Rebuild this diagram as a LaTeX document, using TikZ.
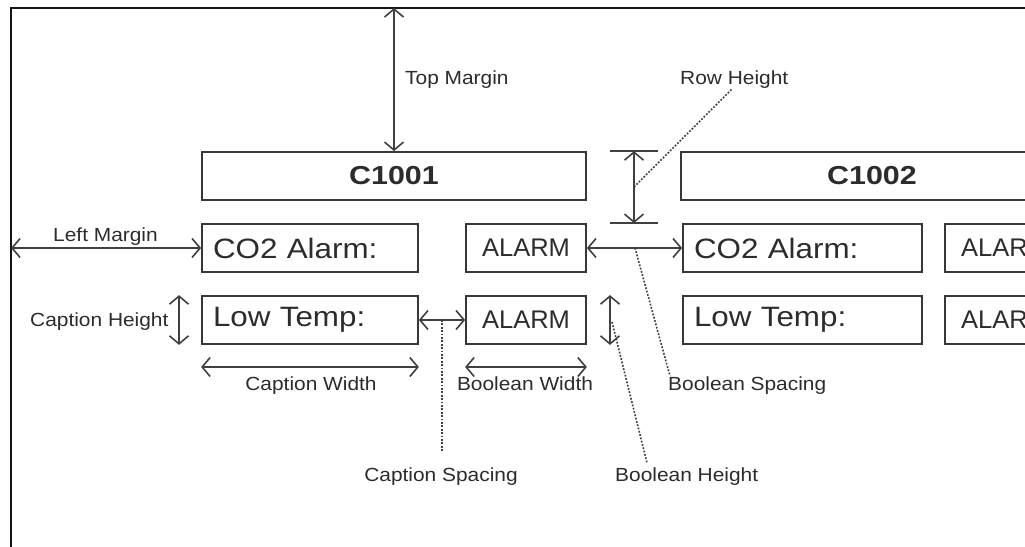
\documentclass[tikz,border=0pt]{standalone}
\usepackage{fontspec}
\setmainfont{Liberation Sans}
\newfontfamily\lblfont{Liberation Sans}[FakeStretch=1.1]
\newfontfamily\capfont{Liberation Sans}[FakeStretch=1.12]
\newfontfamily\hdrfont{Liberation Sans}[FakeStretch=1.17]
\usetikzlibrary{arrows.meta}
\definecolor{ink}{HTML}{2C2C2C}
\definecolor{boxc}{HTML}{383838}
\definecolor{arrc}{HTML}{404040}
\definecolor{framec}{HTML}{151515}
\tikzset{
  box/.style={draw=boxc, line width=1.8pt, inner sep=0pt, minimum height=48pt, text=ink},
  capbox/.style={box, inner xsep=11pt, align=left, font=\capfont\fontsize{28}{28}\selectfont},
  alarmbox/.style={box, minimum width=120pt, font=\fontsize{25.5}{26}\selectfont},
  hdrbox/.style={box, font=\hdrfont\bfseries\fontsize{26}{26}\selectfont},
  dim/.style={draw=arrc, line width=1.6pt, {Straight Barb[length=8pt,width=19pt]}-{Straight Barb[length=8pt,width=19pt]}},
  tick/.style={draw=arrc, line width=1.6pt},
  lbl/.style={font=\lblfont\fontsize{19}{22}\selectfont, text=ink, inner sep=0pt},
  lead/.style={draw=arrc, line width=1.6pt, dash pattern=on 1.8pt off 1.6pt},
  frame/.style={draw=framec, line width=2.8pt}
}
\begin{document}
\begin{tikzpicture}[x=1pt,y=-1pt]
\useasboundingbox (0,0) rectangle (1025,546);
\fill[white] (0,0) rectangle (1025,546);
% frame
\draw[frame] (11,560) -- (11,8) -- (1040,8);
% header boxes
\node[hdrbox, minimum width=384pt] (c1001) at (394,176) {C1001};
\node[hdrbox, minimum width=382pt] (c1002) at (872,176) {C1002};
% column 1
\node[capbox, text width=194pt] (cap1a) at (310,248) {CO2 Alarm:};
\node[alarmbox] (al1a) at (526,248) {ALARM};
\node[capbox, text width=194pt] (cap1b) at (310,320) {Low Temp:};
\node[alarmbox] (al1b) at (526,320) {ALARM};
% column 2
\node[capbox, text width=217pt] (cap2a) at (802.5,248) {CO2 Alarm:};
\node[alarmbox] (al2a) at (1005,248) {ALARM};
\node[capbox, text width=217pt] (cap2b) at (802.5,320) {Low Temp:};
\node[alarmbox] (al2b) at (1005,320) {ALARM};
% helper coordinates
\coordinate (tm) at (394,8);
\coordinate (lm) at (11,248);
\coordinate (chx) at (179,0);
\coordinate (cwy) at (0,367);
\coordinate (bhx) at (610,0);
\coordinate (rhx) at (634,0);
\coordinate (tkl) at (610,0);
\coordinate (tkr) at (658,0);
% labels
\node[lbl, anchor=base west] (ltm) at (405,84) {Top Margin};
\node[lbl, anchor=base west] (lrh) at (680,84) {Row Height};
\node[lbl, anchor=base west] (llm) at (53,241) {Left Margin};
\node[lbl, anchor=base west] (lch) at (30,326) {Caption Height};
\node[lbl, anchor=base] (lcw) at (311,390) {Caption Width};
\node[lbl, anchor=base] (lbw) at (525,390) {Boolean Width};
\node[lbl, anchor=base west] (lbs) at (668,390) {Boolean Spacing};
\node[lbl, anchor=base] (lcs) at (441,481) {Caption Spacing};
\node[lbl, anchor=base west] (lbh) at (615,481) {Boolean Height};
% dimension arrows
\draw[dim] (tm) -- (c1001.north);
\draw[dim] (lm) -- (cap1a.west);
\draw[dim] (cap1b.north -| chx) -- (cap1b.south -| chx);
\draw[dim] (cap1b.west |- cwy) -- (cap1b.east |- cwy);
\draw[dim] (al1b.west |- cwy) -- (al1b.east |- cwy);
\draw[dim] (cap1b.east) -- (al1b.west);
\draw[dim] (al1b.north -| bhx) -- (al1b.south -| bhx);
\draw[dim] (al1a.east) -- (cap2a.west);
\draw[tick] (c1001.north -| tkl) -- (c1001.north -| tkr);
\draw[tick] (al1a.north -| tkl) -- (al1a.north -| tkr);
\draw[dim] (c1001.north -| rhx) -- (al1a.north -| rhx);
% leader lines
\coordinate (rhs) at (634,187);
\coordinate (rhe) at (732,89);
\coordinate (css) at (442,320);
\coordinate (cse) at (442,452);
\coordinate (bhs) at (612,322);
\coordinate (bhe) at (647,463);
\coordinate (bss) at (635,248);
\coordinate (bse) at (670,376);
\draw[lead] (rhs) -- (rhe);
\draw[lead] (css) -- (cse);
\draw[lead] (bhs) -- (bhe);
\draw[lead] (bss) -- (bse);
\end{tikzpicture}
\end{document}
